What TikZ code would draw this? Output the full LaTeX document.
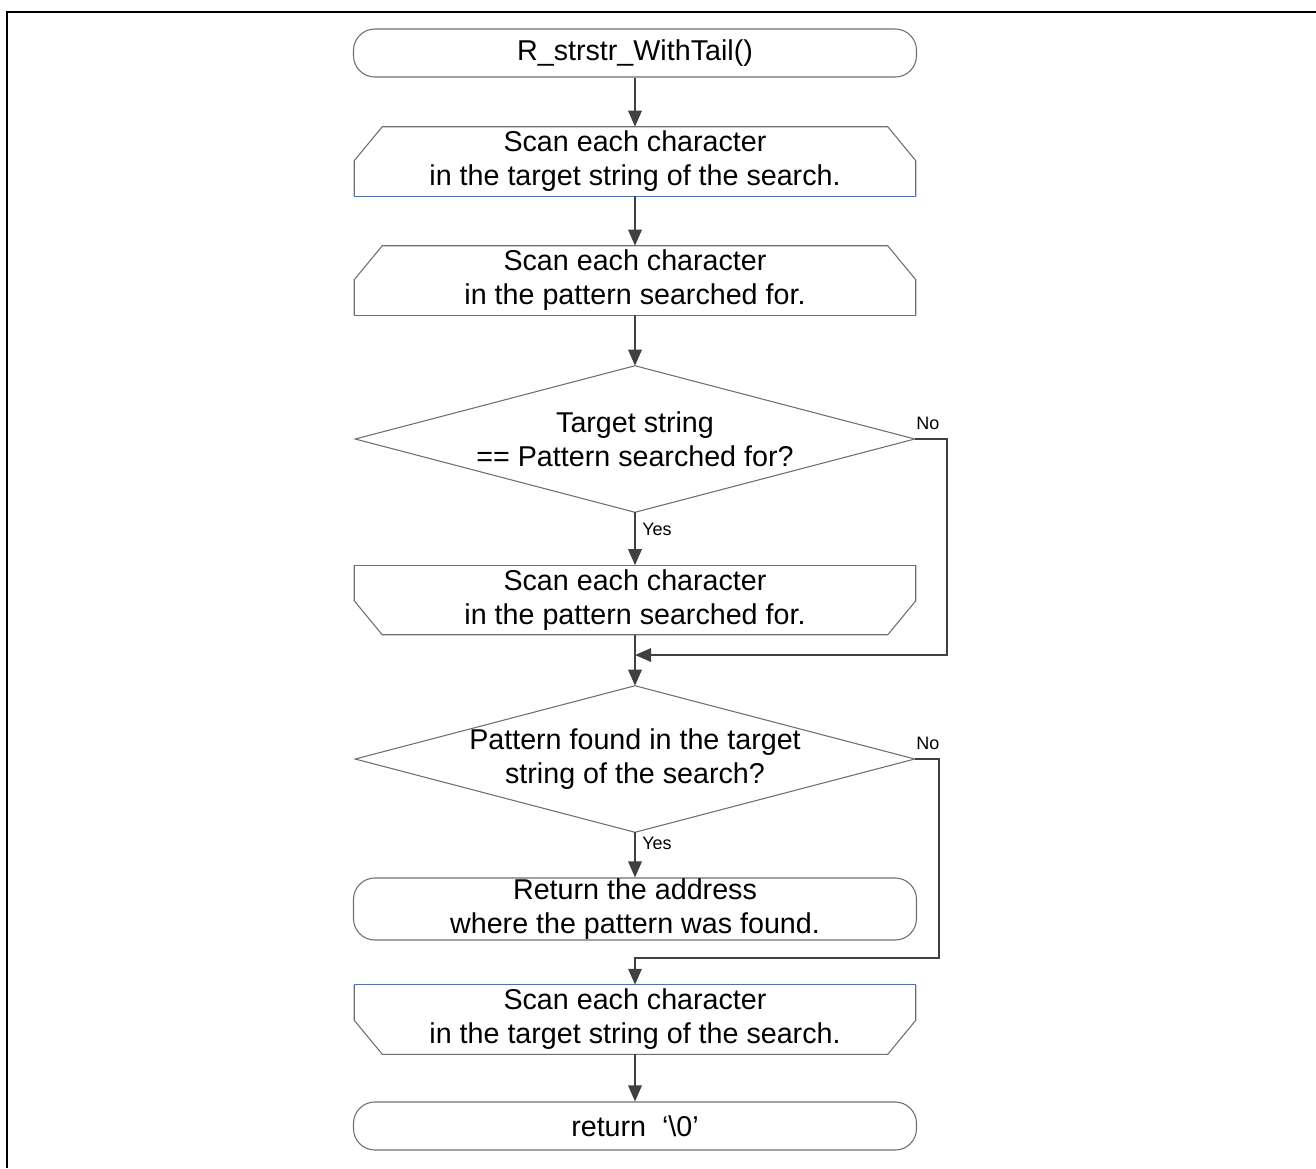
\documentclass[tikz,border=0pt]{standalone}
\usepackage{fontspec}
\setmainfont{Liberation Sans}
\usetikzlibrary{arrows.meta}
\definecolor{linegray}{HTML}{404040}
\definecolor{edgegray}{HTML}{6E6E6E}
\definecolor{edgeblue}{HTML}{4F73AE}
\begin{document}
\begin{tikzpicture}[x=0.75pt,y=-0.75pt,
  txt/.style={font=\fontsize{21.5}{25.5}\selectfont, align=center, inner sep=0pt, text=black},
  term/.style={txt, draw=edgegray, line width=0.8pt, rounded corners=16pt, minimum width=422.25pt, minimum height=36pt},
  boxnode/.style={txt, minimum width=420.75pt, minimum height=51.75pt},
  decnode/.style={txt, minimum width=419.25pt, minimum height=109.5pt},
  shapeline/.style={draw=edgegray, line width=0.8pt},
  blueline/.style={draw=edgeblue, line width=0.8pt},
  flow/.style={draw=linegray, line width=1.6pt, -{Triangle[length=12pt,width=10pt]}},
  lbl/.style={font=\fontsize{13.5}{16}\selectfont, inner sep=0pt, text=black}
]
\useasboundingbox (0,0) rectangle (1316,1168);
\draw[line width=2pt] (7,1168) -- (7,12) -- (1316,12);

% nodes
\node[term] (start) at (635,53) {R\_strstr\_WithTail()};
\node[boxnode] (l1) at (635,161.5) {Scan each character\\in the target string of the search.};
\node[boxnode] (l2) at (635,280.5) {Scan each character\\in the pattern searched for.};
\node[decnode] (d1) at (635,439) {Target string\\== Pattern searched for?};
\node[boxnode] (e1) at (635,600) {Scan each character\\in the pattern searched for.};
\node[decnode] (d2) at (635,759) {Pattern found in the target\\string of the search?};
\node[term, minimum height=46.5pt] (ret) at (635,909) {Return the address\\where the pattern was found.};
\node[boxnode] (e2) at (635,1019.5) {Scan each character\\in the target string of the search.};
\node[term] (end) at (635,1126) {return\ \ ‘\textbackslash 0’};

% loop start outlines
\foreach \n in {l1,l2}{
  \draw[shapeline] (\n.south west) -- ([yshift=-25.5pt]\n.north west) -- ([xshift=21pt]\n.north west) -- ([xshift=-21pt]\n.north east) -- ([yshift=-25.5pt]\n.north east) -- (\n.south east);
  \draw[blueline] (\n.south west) -- (\n.south east);
}
% loop end outlines
\foreach \n in {e1,e2}{
  \draw[shapeline] (\n.north west) -- ([yshift=25.5pt]\n.south west) -- ([xshift=21pt]\n.south west) -- ([xshift=-21pt]\n.south east) -- ([yshift=25.5pt]\n.south east) -- (\n.north east);
  \draw[blueline] (\n.north west) -- (\n.north east);
}
% decisions
\foreach \n in {d1,d2}{
  \draw[shapeline] (\n.north) -- (\n.east) -- (\n.south) -- (\n.west) -- cycle;
}

% connectors
\coordinate (j1) at (635,655);
\coordinate (j2) at (635,958);
\draw[flow] (start.south) -- (l1.north);
\draw[flow] (l1.south) -- (l2.north);
\draw[flow] (l2.south) -- (d1.north);
\draw[flow] (d1.south) -- (e1.north);
\draw[flow] (e1.south) -- (d2.north);
\draw[flow] (d1.east) -- ++(32,0) |- (j1);
\draw[flow] (d2.south) -- (ret.north);
\draw[flow] (d2.east) -- ++(24,0) |- (j2) -- (e2.north);
\draw[flow] (e2.south) -- (end.north);

% labels
\node[lbl, anchor=west] (no1) at (916,423) {No};
\node[lbl, anchor=west] (yes1) at (642,529) {Yes};
\node[lbl, anchor=west] (no2) at (916,743) {No};
\node[lbl, anchor=west] (yes2) at (642,843) {Yes};
\end{tikzpicture}
\end{document}
